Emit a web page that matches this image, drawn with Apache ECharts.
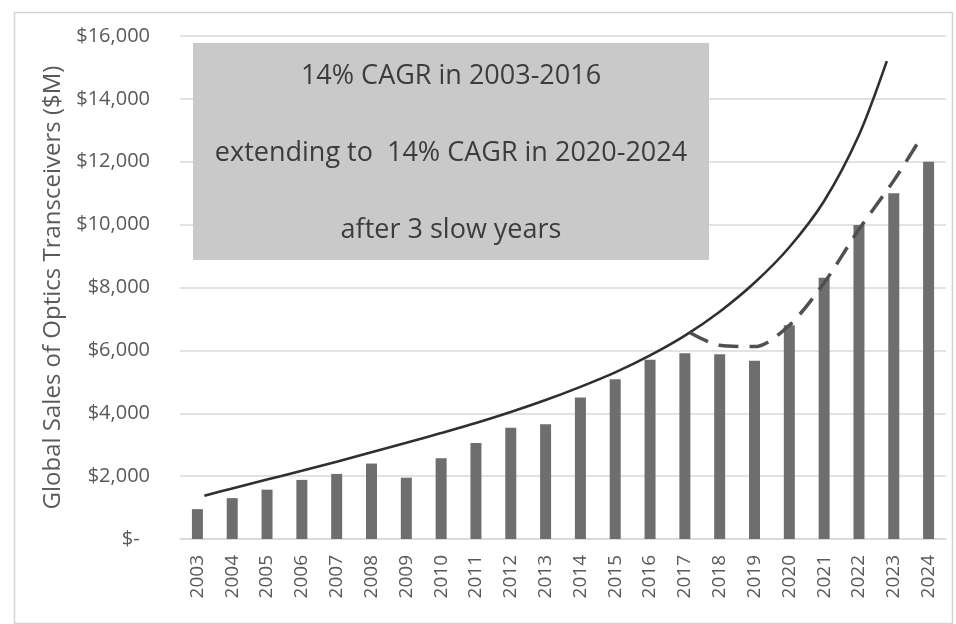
<!DOCTYPE html>
<html>
<head>
<meta charset="utf-8">
<script src="https://cdn.jsdelivr.net/npm/echarts@6/dist/echarts.min.js"></script>
<style>
html,body{margin:0;padding:0;background:#fff;}
#chart{width:956px;height:624px;}
</style>
</head>
<body>
<div id="chart"></div>
<script>
// Categories (years)
const years = ['2003','2004','2005','2006','2007','2008','2009','2010','2011','2012','2013','2014','2015','2016','2017','2018','2019','2020','2021','2022','2023','2024'];
// Bar values ($M)
const sales = [950, 1300, 1570, 1880, 2070, 2400, 1950, 2570, 3050, 3540, 3650, 4500, 5080, 5700, 5910, 5880, 5670, 6800, 8310, 9990, 11000, 12000];
// Solid trend curve (year position, $M)
const solidX = [2003.2, 2004, 2005, 2006, 2007, 2008, 2009, 2010, 2011, 2012, 2013, 2014, 2015, 2016, 2017, 2018, 2019, 2020, 2021, 2022, 2022.8];
const solidY = [1372, 1610, 1890, 2170, 2460, 2760, 3060, 3370, 3690, 4040, 4420, 4840, 5300, 5840, 6470, 7230, 8150, 9280, 10750, 12850, 15200];
// Dashed recovery curve (year position, $M)
const dashX = [2017.15, 2018, 2019, 2020, 2021, 2022, 2023, 2023.78];
const dashY = [6560, 6160, 6120, 6800, 8150, 9850, 11400, 12760];
// Y tick values
const yTicks = [0, 2000, 4000, 6000, 8000, 10000, 12000, 14000, 16000];
// Annotation text
const noteLines = ['14% CAGR in 2003-2016', 'extending to  14% CAGR in 2020-2024', 'after 3 slow years'];

const chart = echarts.init(document.getElementById('chart'));
const FONT = '"Open Sans", sans-serif';

function fmt(v){
  if (v === 0) return '$-  ';
  return '$' + v.toLocaleString('en-US');
}

const option = {
  backgroundColor: '#ffffff',
  animation: false,
  grid: {left: 180, right: 10, top: 36, bottom: 85},
  xAxis: [
    {
      type: 'category', data: years, boundaryGap: true,
      axisLine: {lineStyle: {color: '#d9d9d9', width: 1.5}},
      axisTick: {show: false},
      axisLabel: {rotate: 90, margin: 16, color: '#595959', fontSize: 19, fontFamily: FONT}
    },
    {
      type: 'value', min: 2002.5, max: 2024.5, show: false,
      splitLine: {show: false}
    }
  ],
  yAxis: {
    type: 'value', min: yTicks[0], max: yTicks[yTicks.length-1], interval: 2000,
    name: 'Global Sales of Optics Transceivers ($M)',
    nameLocation: 'middle', nameGap: 110,
    nameTextStyle: {color: '#5a5a5a', fontSize: 24, fontFamily: FONT},
    axisLine: {show: false}, axisTick: {show: false},
    axisLabel: {margin: 30, color: '#595959', fontSize: 20, fontFamily: FONT, formatter: fmt},
    splitLine: {lineStyle: {color: '#d9d9d9', width: 1.5}}
  },
  graphic: [
    {type: 'rect', left: 12, top: 10, shape: {width: 938, height: 611}, style: {fill: 'none', stroke: '#d4d4d4', lineWidth: 1.5}, silent: true, z: 0},
    {type: 'rect', left: 193, top: 43, shape: {width: 516, height: 217}, style: {fill: '#c9c9c9'}, z: 10},
    {type: 'text', x: 451, y: 76, style: {text: noteLines[0], fill: '#3c3c3c', font: '27px ' + FONT, textAlign: 'center', textVerticalAlign: 'middle'}, z: 11},
    {type: 'text', x: 451, y: 153, style: {text: noteLines[1], fill: '#3c3c3c', font: '27px ' + FONT, textAlign: 'center', textVerticalAlign: 'middle'}, z: 11},
    {type: 'text', x: 451, y: 230, style: {text: noteLines[2], fill: '#3c3c3c', font: '27px ' + FONT, textAlign: 'center', textVerticalAlign: 'middle'}, z: 11}
  ],
  series: [
    {
      type: 'bar', data: sales, barWidth: 11, xAxisIndex: 0,
      itemStyle: {color: '#6e6e6e'}, z: 2
    },
    {
      type: 'line', xAxisIndex: 1, smooth: 0.3, symbol: 'none',
      data: solidX.map((x, i) => [x, solidY[i]]),
      lineStyle: {color: '#2f2f2f', width: 2.6}, z: 3
    },
    {
      type: 'line', xAxisIndex: 1, smooth: 0.3, symbol: 'none',
      data: dashX.map((x, i) => [x, dashY[i]]),
      lineStyle: {color: '#505050', width: 3.5, type: [20, 11]}, z: 3
    }
  ]
};
chart.setOption(option);
</script>
</body>
</html>
